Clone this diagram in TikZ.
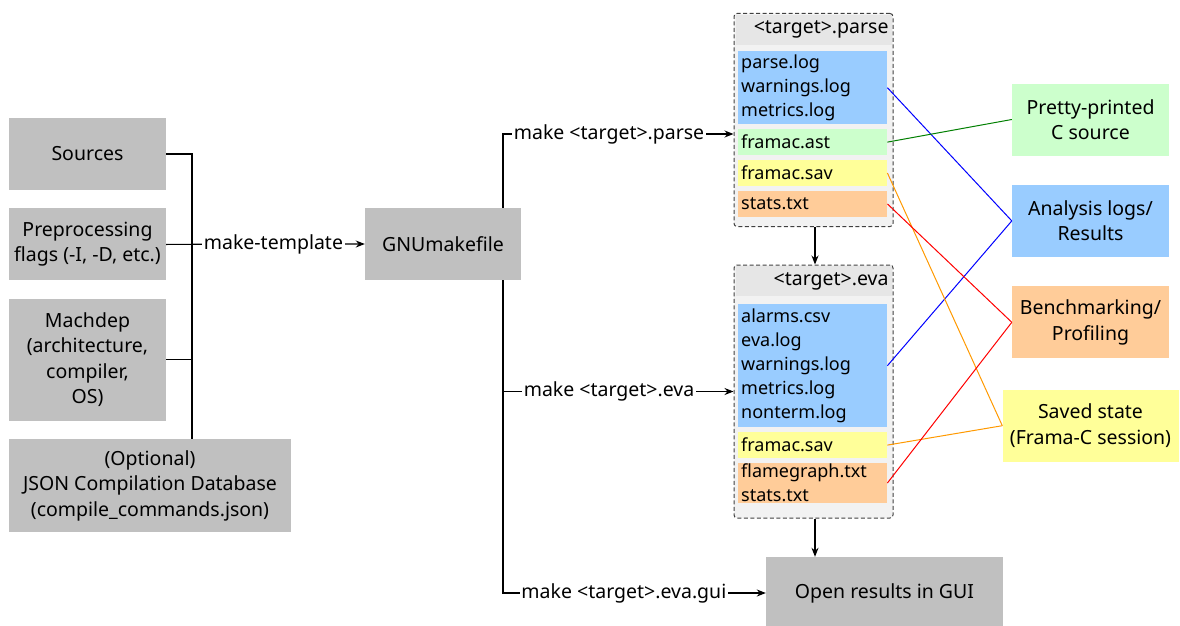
\documentclass[tikz,border=0pt]{standalone}
\usepackage{fontspec}
\setmainfont{Noto Sans}
\usepackage{tikz}
\usetikzlibrary{positioning, arrows.meta}
\definecolor{boxgray}{HTML}{C0C0C0}
\definecolor{groupgray}{HTML}{F2F2F2}
\definecolor{headgray}{HTML}{E6E6E6}
\definecolor{logblue}{HTML}{99CCFF}
\definecolor{astgreen}{HTML}{CCFFCC}
\definecolor{savyellow}{HTML}{FFFF99}
\definecolor{statorange}{HTML}{FFCC99}
\definecolor{linkorange}{HTML}{FF9900}
\definecolor{linkgreen}{HTML}{007F00}
\tikzset{
	every node/.append style={
		font=\fontsize{19.5}{25.5}\selectfont,
	},
	layer/.append style={
		fill=boxgray,
		align = center,
		minimum height=72pt,
		minimum width=157pt,
		inner sep=0pt,
	},
	labe/.append style={
		fill=white,
		inner sep=1.5pt,
	},
	group/.append style={
		draw=black!75,
		dash pattern=on 4pt off 2.5pt,
		line width=1pt,
		rounded corners=3pt,
		fill=groupgray,
		minimum width=159pt,
		inner sep=0pt,
	},
	grouphead/.append style={
		fill=headgray,
		text width=150pt,
		align=right,
		minimum height=30pt,
		inner xsep=3pt,
		inner ysep=0pt,
		anchor=north,
	},
	item/.append style={
		font=\fontsize{18}{24}\selectfont,
		text width=143pt,
		inner xsep=3pt,
		inner ysep=0pt,
		align=left,
		anchor=north west,
		minimum height=26pt,
	},
	wire/.append style={
		line width=1.2pt,
	},
	link/.append style={
		line width=1pt,
	}
}

\begin{document}
\begin{tikzpicture}[x=1pt, y=-1pt, >={Stealth[length=9pt, width=7pt]}]
\useasboundingbox (0,0) rectangle (1180,626);

% inputs of make-template
\node(src)[layer] at (87.5,154){Sources};
\node(pre)[layer, below=18pt of src]{Preprocessing\\flags (-I, -D, etc.)};
\node(mach)[layer, minimum height=122pt, below=18pt of pre]{Machdep\\(architecture,\\compiler,\\OS)};
\node(json)[layer, minimum width=282pt, minimum height=93pt, below=18pt of mach.south west, anchor=north west]{(Optional)\\JSON Compilation Database\\(compile\_commands.json)};

\node(gmk)[layer, minimum width=156pt] at (443,244){GNUmakefile};

% parse target
\node(parse)[group, minimum height=213pt] at (813.5,120){};
\node(parsehead)[grouphead] at ([yshift=-1.5pt]parse.north){<target>.parse};
\node(pl)[item, fill=logblue, minimum height=73pt] at (738,51){parse.log\\warnings.log\\metrics.log};
\node(pa)[item, fill=astgreen, below=4.5pt of pl]{framac.ast};
\node(ps)[item, fill=savyellow, below=4.5pt of pa]{framac.sav};
\node(po)[item, fill=statorange, below=4.5pt of ps]{stats.txt};

% eva target
\node(eva)[group, minimum height=253pt] at (813.5,391.5){};
\node(evahead)[grouphead] at ([yshift=-1.5pt]eva.north){<target>.eva};
\node(el)[item, fill=logblue, minimum height=123pt] at (738,304){alarms.csv\\eva.log\\warnings.log\\metrics.log\\nonterm.log};
\node(es)[item, fill=savyellow, below=4.5pt of el]{framac.sav};
\node(eo)[item, fill=statorange, minimum height=40pt, below=4.5pt of es]{flamegraph.txt\\stats.txt};

\node(gui)[layer, minimum width=237pt] at (884.5,593){Open results in GUI};

% outcomes
\node(pp)[layer, fill=astgreen] at (1090.5,119.5){Pretty-printed\\C source};
\node(anl)[layer, fill=logblue, below=29pt of pp]{Analysis logs/\\Results};
\node(bench)[layer, fill=statorange, below=29pt of anl]{Benchmarking/\\Profiling};
\node(saved)[layer, fill=savyellow, minimum width=176pt, below=31pt of bench]{Saved state\\(Frama-C session)};

\coordinate (bus) at (192,0);
\coordinate (trunk) at (503,0);

\draw[wire] (src.east) -| (bus |- json.north);
\draw[wire] (mach.east) -- (bus |- mach.east);
\draw[wire, ->] (pre.east) -- node[labe, pos=0.54]{make-template} (gmk.west);

\draw[wire, ->] (gmk.north -| trunk) |- node[labe, pos=0.73]{make <target>.parse} ([yshift=-14pt]parse.west);
\draw[wire, ->] (gmk.south -| trunk) |- node[labe, pos=0.73]{make <target>.eva} (eva.west);
\draw[wire, ->] (gmk.south -| trunk) |- node[labe, pos=0.73]{make <target>.eva.gui} (gui.west);

\draw[wire, ->] ([xshift=1.5pt]parse.south) -- ([xshift=1.5pt]eva.north);
\draw[wire, ->] ([xshift=1.5pt]eva.south) -- ([xshift=1.5pt]eva.south |- gui.north);

\draw[link, blue] (pl.east) -- (anl.west);
\draw[link, blue] (el.east) -- (anl.west);
\draw[link, linkgreen] (pa.east) -- (pp.west);
\draw[link, linkorange] (ps.east) -- (saved.west);
\draw[link, linkorange] (es.east) -- (saved.west);
\draw[link, red] (po.east) -- (bench.west);
\draw[link, red] (eo.east) -- (bench.west);

\end{tikzpicture}
\end{document}
